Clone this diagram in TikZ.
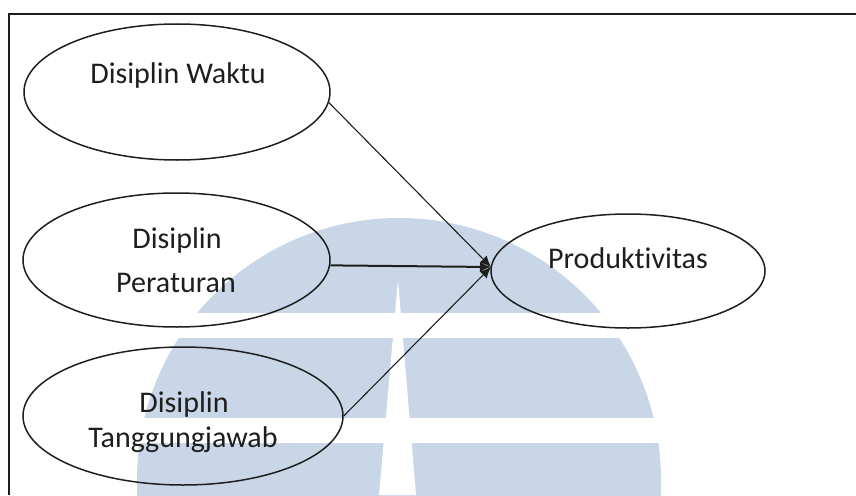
\documentclass[tikz,border=0pt]{standalone}
\usepackage{fontspec}
\setmainfont{Carlito}[Ligatures={NoCommon,NoContextual}]
\usetikzlibrary{shapes.geometric,arrows.meta}
\definecolor{wm}{RGB}{201,214,232}
\definecolor{ink}{RGB}{30,30,30}
\begin{document}
\begin{tikzpicture}[x=1pt,y=-1pt,
  oval/.style={draw=ink, line width=1.5pt, ellipse, inner sep=0pt},
  lbl/.style={anchor=base, inner sep=0pt, font=\fontsize{30}{36}\selectfont, text=ink},
  link/.style={draw=ink, line width=1.1pt, -{Latex[length=11pt,width=10pt]}},
]
\useasboundingbox (0,0) rectangle (856,495);
% watermark
\begin{scope}
\clip (0,0) rectangle (856,495);
\fill[wm] (399,480) circle[radius=262pt];
\fill[wm] (137,480) rectangle (661,495);
\fill[white] (398,280) -- (416,495) -- (379,495) -- cycle;
\fill[white] (120,313) rectangle (680,338);
\fill[white] (120,418) rectangle (680,443);
\end{scope}
% frame
\draw[ink, line width=2pt] (9,495) -- (9,14) -- (856,14);
% ovals
\node[oval, minimum width=306pt, minimum height=136pt] (e1) at (177,92) {};
\node[oval, minimum width=307pt, minimum height=134pt] (e2) at (176.5,260) {};
\node[oval, minimum width=320pt, minimum height=138pt] (e3) at (183,416) {};
\node[oval, minimum width=274pt, minimum height=114pt] (e4) at (628,271) {};
% labels
\node[lbl] (t1) at (178,83) {Disiplin Waktu};
\node[lbl] (t2a) at (177,248) {Disiplin};
\node[lbl] (t2b) at (176,292) {Peraturan};
\node[lbl] (t3a) at (184,412) {Disiplin};
\node[lbl] (t3b) at (183,447) {Tanggungjawab};
\node[lbl] (t4) at (628,268) {Produk\kern0pt ti\kern0pt vi\kern0pt tas};
% connectors
\coordinate (tip) at (491,267);
\draw[link] (e1.-4) -- (tip);
\draw[link, line width=2pt] (e2.-2) -- (tip);
\draw[link] (e3.east) -- (tip);
\end{tikzpicture}
\end{document}
